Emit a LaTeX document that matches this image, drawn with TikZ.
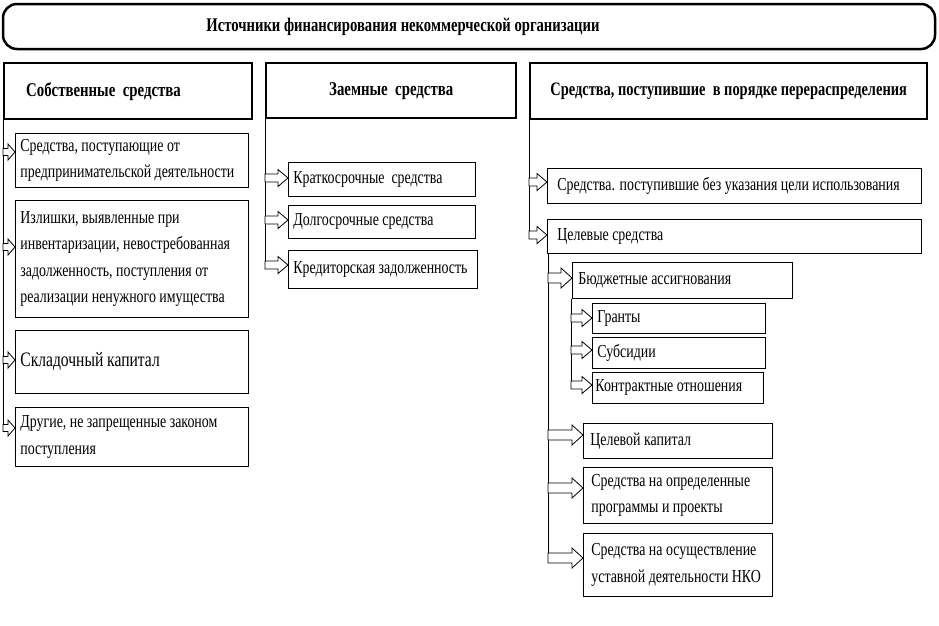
\documentclass[tikz,border=0pt]{standalone}
\usepackage{fontspec}
\setmainfont[FakeStretch=0.76]{Liberation Serif}
\usetikzlibrary{calc}

\def\arrsh{3.5pt}
\def\arrhw{8pt}
\def\arrhl{7pt}
\newcommand{\blockarr}[2]{
\draw [fill=white, line width=0.8pt] let \p1 = (#1), \p2 = (#2) in
  (\x1,\y1+\arrsh) -- (\x2-\arrhl,\y1+\arrsh) -- (\x2-\arrhl,\y1+\arrhw) -- (\x2,\y1)
  -- (\x2-\arrhl,\y1-\arrhw) -- (\x2-\arrhl,\y1-\arrsh) -- (\x1,\y1-\arrsh) -- cycle;
}

\begin{document}
\begin{tikzpicture}[x=1pt, y=-1pt,
  box/.style={draw, line width=0.8pt, anchor=north west, align=flush left, inner xsep=5pt, inner ysep=0pt, font=\fontsize{18.3}{26.5}\selectfont},
  hdr/.style={draw, line width=2.4pt, anchor=north west, inner ysep=0pt, font=\bfseries\fontsize{19.5}{22}\selectfont}]
\useasboundingbox (0,0) rectangle (939,625);

\draw [line width=2.5pt, rounded corners=14] (3,4) rectangle (935,49);
\node [font=\bfseries\fontsize{19.3}{22}\selectfont] (title) at (403,27) {Источники финансирования некоммерческой организации};

\node [hdr, minimum height=56, text width=204, inner xsep=22, align=flush left] (own) at (3,62) {Собственные\ \ средства};
\node [hdr, minimum height=55, text width=240, inner xsep=5, align=flush center] (loan) at (265,62) {Заемные\ \ средства};
\node [hdr, minimum height=56, text width=387, inner xsep=5, align=flush center, font=\bfseries\fontsize{19}{22}\selectfont] (redis) at (529,62) {Средства, поступившие\ \ в порядке перераспределения};

% own funds
\node [box, minimum height=54, text width=223] (own1) at (15,133) {Средства, поступающие от\\предпринимательской деятельности};
\node [box, minimum height=117, text width=223] (own2) at (15,200) {Излишки, выявленные при\\инвентаризации, невостребованная\\задолженность, поступления от\\реализации ненужного имущества};
\node [box, minimum height=63, text width=223, font=\fontsize{20.5}{24}\selectfont] (own3) at (15,330) {Складочный капитал};
\node [box, minimum height=59, text width=223] (own4) at (15,407) {Другие, не запрещенные законом\\поступления};

% borrowed funds
\node [box, minimum height=34, text width=177] (loan1) at (288,162) {Краткосрочные\ \ средства};
\node [box, minimum height=33, text width=177] (loan2) at (288,205) {Долгосрочные средства};
\node [box, minimum height=38, text width=179] (loan3) at (288,250) {Кредиторская задолженность};

% redistribution
\node [box, minimum height=35, text width=354, inner xsep=10] (redis1) at (547,168) {Средства. поступившие без указания цели использования};
\node [box, minimum height=34, text width=354, inner xsep=10] (goal) at (547,219) {Целевые средства};
\node [box, minimum height=36, text width=208, inner xsep=6] (budget) at (572,262) {Бюджетные ассигнования};
\node [box, minimum height=30, text width=163] (grant) at (592,303) {Гранты};
\node [box, minimum height=31, text width=163] (subs) at (592,337) {Субсидии};
\node [box, minimum height=31, text width=165, inner xsep=3] (contr) at (592,372) {Контрактные отношения};
\node [box, minimum height=35, text width=175, inner xsep=7] (endow) at (583,423) {Целевой капитал};
\node [box, minimum height=56, text width=173, inner xsep=8] (prog) at (583,467) {Средства на определенные\\программы и проекты};
\node [box, minimum height=63, text width=173, inner xsep=8] (stat) at (583,533) {Средства на осуществление\\уставной деятельности НКО};

\coordinate (o1) at (3,152);
\coordinate (o2) at (3,247);
\coordinate (o3) at (3,360);
\coordinate (o4) at (3,428);
\coordinate (m1) at (265,178);
\coordinate (m2) at (265,220);
\coordinate (m3) at (265,265);
\coordinate (r1) at (529,182);
\coordinate (r2) at (529,235);
\coordinate (g1) at (548,278);
\coordinate (g2) at (548,435);
\coordinate (g3) at (548,488);
\coordinate (g4) at (548,558);
\coordinate (s1) at (571,318);
\coordinate (s2) at (571,350);
\coordinate (s3) at (571,385);

\draw [line width=0.8pt] (own.south west -| o1) -- (o4);
\draw [line width=0.8pt] (loan.south west -| m1) -- (m3);
\draw [line width=0.8pt] (redis.south west -| r1) -- (r2);
\draw [line width=0.8pt] (goal.south west -| g1) -- (g4);
\draw [line width=0.8pt] (budget.south west -| s1) -- (s3);

\foreach \src/\dst in {o1/own1, o2/own2, o3/own3, o4/own4}
  \blockarr{\src}{\src -| \dst.west};

\def\arrsh{4pt}\def\arrhw{8.5pt}\def\arrhl{10pt}
\foreach \src/\dst in {m1/loan1, m2/loan2, m3/loan3, r1/redis1, r2/goal, s1/grant, s2/subs, s3/contr}
  \blockarr{\src}{\src -| \dst.west};

\def\arrsh{5pt}\def\arrhw{10pt}\def\arrhl{11pt}
\foreach \src/\dst in {g1/budget, g2/endow, g3/prog, g4/stat}
  \blockarr{\src}{\src -| \dst.west};

\end{tikzpicture}
\end{document}
